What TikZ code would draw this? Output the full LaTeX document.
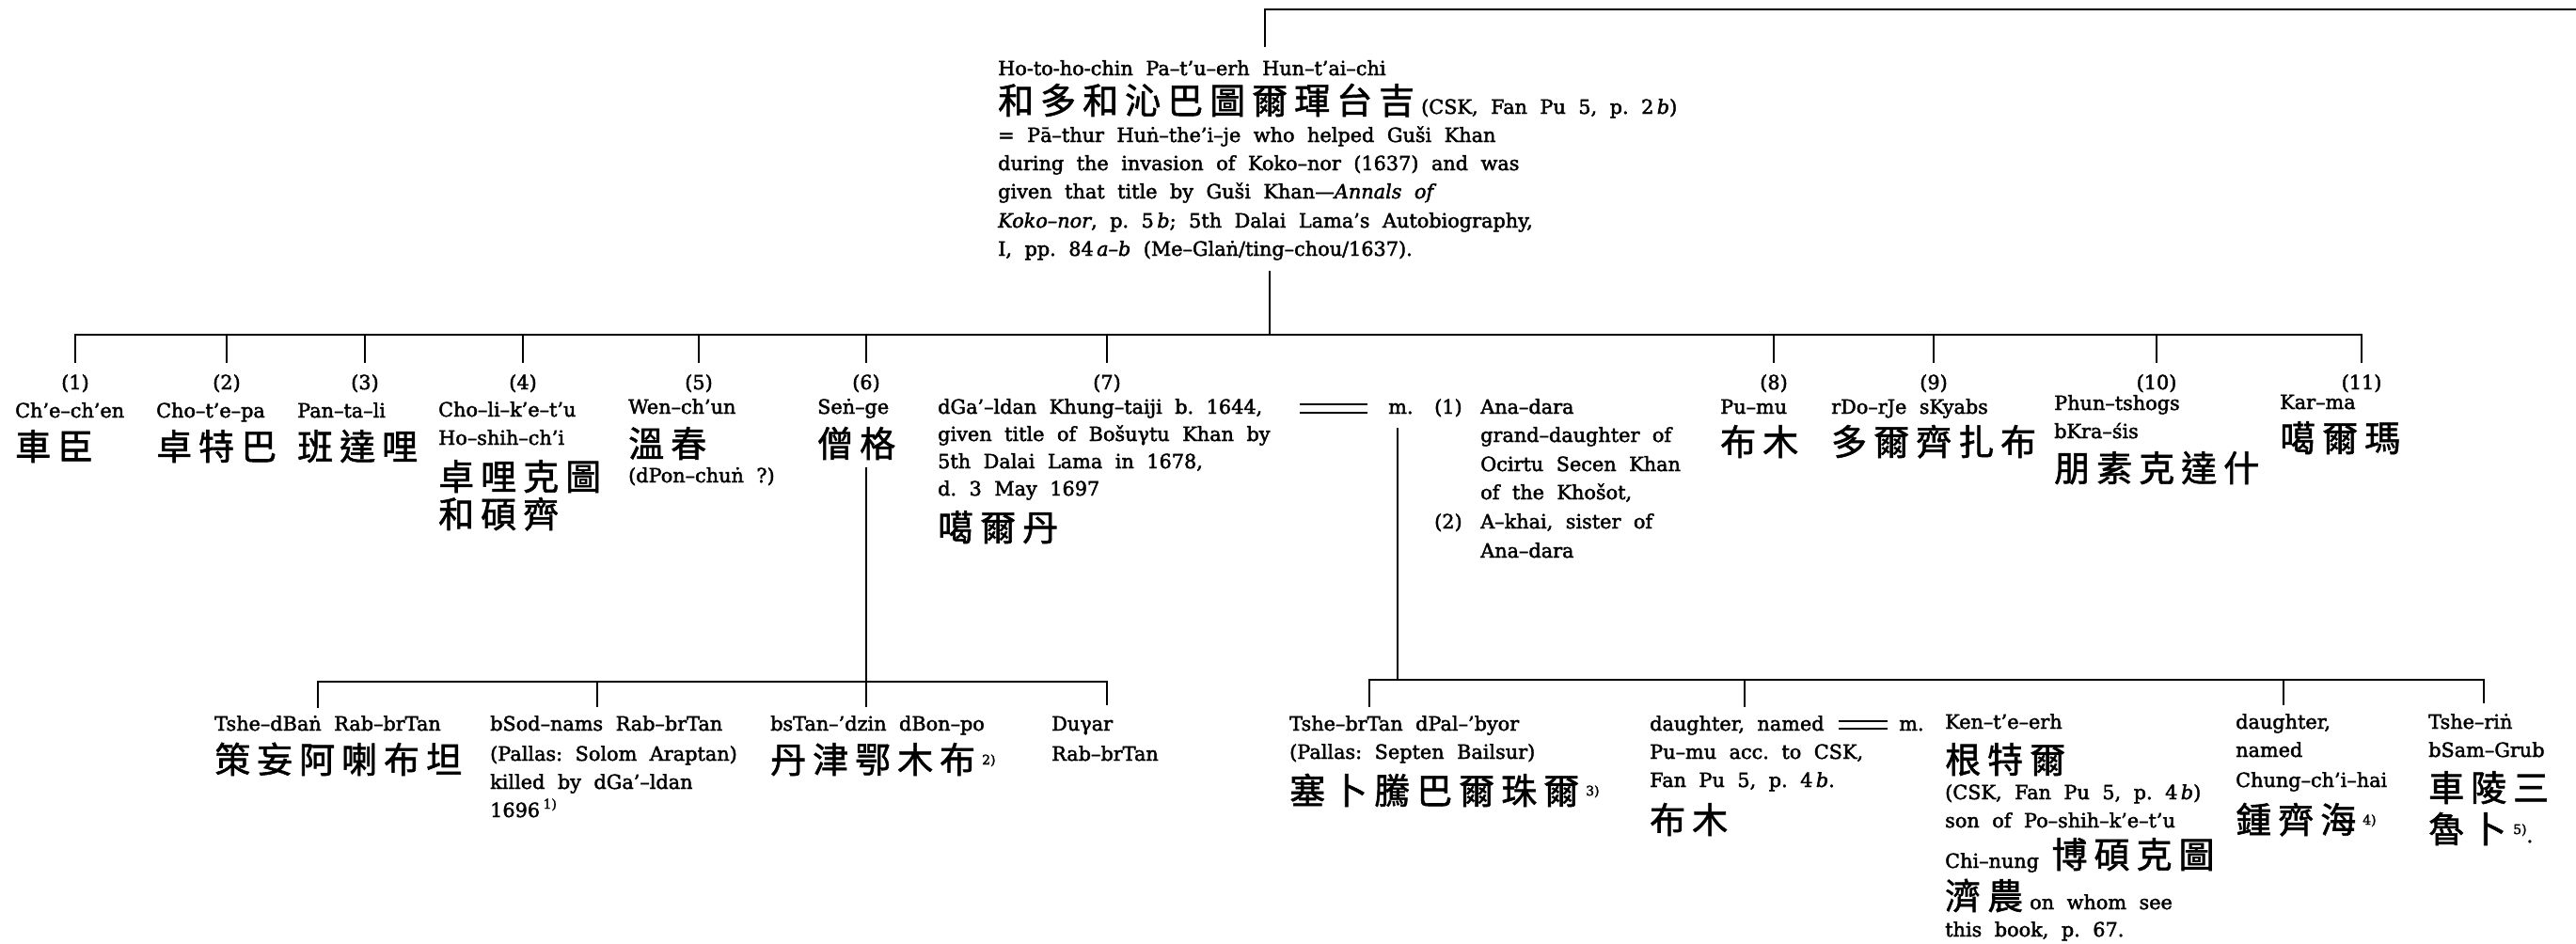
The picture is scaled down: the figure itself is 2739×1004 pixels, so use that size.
\documentclass[tikz,border=0pt]{standalone}
\usepackage{fontspec}
\setmainfont{DejaVu Serif}[FakeBold=2]
\newfontfamily\cjk{Noto Sans CJK TC}[FakeBold=1.5]
\newdimen\zhsp \zhsp=7pt
\makeatletter
\newcommand\zh[1]{{\cjk\fontsize{38}{40}\selectfont\zh@loop#1\relax}}
\def\zh@loop#1{\ifx\relax#1\else#1\kern\zhsp\expandafter\zh@loop\fi}
\makeatother
\newcommand\lat{\fontsize{20.8}{30}\selectfont\frenchspacing\spaceskip=13.5pt plus 2pt minus 2pt\relax}
\newcommand\supnote[1]{\raisebox{9pt}{\fontsize{14}{14}\selectfont #1}}
\tikzset{
  txt/.style={inner sep=0pt, anchor=base west, font=\lat},
  num/.style={inner sep=0pt, anchor=base, font=\lat},
  ln/.style={line width=2.6pt, line join=miter, draw=black},
}
\begin{document}
\begin{tikzpicture}[x=1pt,y=-1pt]
\fill[white] (0,0) rectangle (2739,1004);
\useasboundingbox (0,0) rectangle (2739,1004);

% ---------- top person ----------
\coordinate (topj) at (1345,10);
\coordinate (topr) at (2739,10);
\coordinate (topv) at (1345,50);
\draw[ln] (topv) -- (topj) -- (topr);

\node[txt] (t1) at (1061,80) {Ho-to-ho-chin Pa–t’u–erh Hun–t’ai–chi};
\node[txt] (t2) at (1061,121) {\zh{和多和沁巴圖爾琿台吉}(CSK, Fan Pu 5, p. 2\,\textit{b})};
\node[txt] (t3) at (1061,151) {= Pā–thur Huṅ–the’i–je who helped Guši Khan};
\node[txt] (t4) at (1061,181) {during the invasion of Koko–nor (1637) and was};
\node[txt] (t5) at (1061,211) {given that title by Guši Khan—\textit{Annals of}};
\node[txt] (t6) at (1061,242) {\textit{Koko–nor}, p. 5\,\textit{b}; 5th Dalai Lama’s Autobiography,};
\node[txt] (t7) at (1061,272) {I, pp. 84\,\textit{a–b} (Me–Glaṅ/ting–chou/1637).};

\coordinate (dv1) at (1350,288);
\coordinate (dv2) at (1350,356);
\draw[ln] (dv1) -- (dv2);

% ---------- first generation ----------
\foreach \i/\x in {1/80,2/241,3/388,4/556,5/743,6/921,7/1177,8/1886,9/2056,10/2293,11/2511}{
  \coordinate (m\i) at (\x,356);
  \coordinate (k\i) at (\x,386);
  \node[num] (n\i) at (\x,414) {(\i)};
}
\draw[ln] (k1) -- (m1) -- (m11) -- (k11);
\foreach \i in {2,...,10}{ \draw[ln] (m\i) -- (k\i); }

\node[txt] (c1a) at (16,444) {Ch’e–ch’en};
\node[txt] (c1z) at (16,489) {\zh{車臣}};
\node[txt] (c2a) at (166,444) {Cho–t’e–pa};
\node[txt] (c2z) at (166,489) {\zh{卓特巴}};
\node[txt] (c3a) at (316,444) {Pan–ta–li};
\node[txt] (c3z) at (316,489) {\zh{班達哩}};
\node[txt] (c4a) at (466,443) {Cho–li–k’e–t’u};
\node[txt] (c4b) at (466,473) {Ho–shih–ch’i};
\node[txt] (c4z) at (466,521) {\zh{卓哩克圖}};
\node[txt] (c4y) at (466,561) {\zh{和碩齊}};
\node[txt] (c5a) at (668,440) {Wen–ch’un};
\node[txt] (c5z) at (668,486) {\zh{溫春}};
\node[txt] (c5b) at (668,513) {(dPon–chuṅ ?)};
\node[txt] (c6a) at (869,440) {Seṅ–ge};
\node[txt] (c6z) at (869,486) {\zh{僧格}};
\node[txt] (c7a) at (997,440) {dGa’–ldan Khung–taiji b. 1644,};
\node[txt] (c7b) at (997,469) {given title of Bošuγtu Khan by};
\node[txt] (c7c) at (997,498) {5th Dalai Lama in 1678,};
\node[txt] (c7d) at (997,527) {d. 3 May 1697};
\node[txt] (c7z) at (997,575) {\zh{噶爾丹}};

\coordinate (eqa1) at (1382,430); \coordinate (eqa2) at (1454,430);
\coordinate (eqb1) at (1382,439); \coordinate (eqb2) at (1454,439);
\draw[ln] (eqa1) -- (eqa2);
\draw[ln] (eqb1) -- (eqb2);
\node[txt] (mar1) at (1476,440) {m.};
\node[txt] (w1) at (1525,440) {(1)};
\node[txt] (w1a) at (1574,440) {Ana–dara};
\node[txt] (w1b) at (1574,470) {grand–daughter of};
\node[txt] (w1c) at (1574,501) {Ocirtu Secen Khan};
\node[txt] (w1d) at (1574,531) {of the Khošot,};
\node[txt] (w2) at (1525,562) {(2)};
\node[txt] (w2a) at (1574,562) {A–khai, sister of};
\node[txt] (w2b) at (1574,593) {Ana–dara};

\node[txt] (c8a) at (1829,440) {Pu–mu};
\node[txt] (c8z) at (1829,484) {\zh{布木}};
\node[txt] (c9a) at (1947,440) {rDo–rJe sKyabs};
\node[txt] (c9z) at (1947,484) {\zh{多爾齊扎布}};
\node[txt] (c10a) at (2184,436) {Phun–tshogs};
\node[txt] (c10b) at (2184,466) {bKra–śis};
\node[txt] (c10z) at (2184,512) {\zh{朋素克達什}};
\node[txt] (c11a) at (2424,435) {Kar–ma};
\node[txt] (c11z) at (2424,480) {\zh{噶爾瑪}};

% ---------- children of Seng-ge ----------
\coordinate (sv1) at (921,497);
\coordinate (sv2) at (921,752);
\draw[ln] (sv1) -- (sv2);
\coordinate (l1) at (338,725);  \coordinate (lk1) at (338,753);
\coordinate (l2) at (635,725);  \coordinate (lk2) at (635,752);
\coordinate (l4) at (1177,725); \coordinate (lk4) at (1177,750);
\draw[ln] (lk1) -- (l1) -- (l4) -- (lk4);
\draw[ln] (l2) -- (lk2);

\node[txt] (s1a) at (228,777) {Tshe–dBaṅ Rab–brTan};
\node[txt] (s1z) at (228,822) {\zh{策妄阿喇布坦}};
\node[txt] (s2a) at (521,777) {bSod–nams Rab–brTan};
\node[txt] (s2b) at (521,809) {(Pallas: Solom Araptan)};
\node[txt] (s2c) at (521,839) {killed by dGa’–ldan};
\node[txt] (s2d) at (521,869) {1696\,\supnote{1)}};
\node[txt] (s3a) at (819,777) {bsTan–’dzin dBon–po};
\node[txt] (s3z) at (819,822) {\zh{丹津鄂木布}\supnote{2)}};
\node[txt] (s4a) at (1118,777) {Duγar};
\node[txt] (s4b) at (1118,809) {Rab–brTan};

% ---------- children of dGa'-ldan ----------
\coordinate (mv1) at (1486,455);
\coordinate (mv2) at (1486,723);
\draw[ln] (mv1) -- (mv2);
\coordinate (rl1) at (1456,723); \coordinate (rk1) at (1456,752);
\coordinate (rl2) at (1855,723); \coordinate (rk2) at (1855,752);
\coordinate (rl3) at (2428,723); \coordinate (rk3) at (2428,750);
\coordinate (rl4) at (2641,723); \coordinate (rk4) at (2641,748);
\draw[ln] (rk1) -- (rl1) -- (rl4) -- (rk4);
\draw[ln] (rl2) -- (rk2);
\draw[ln] (rl3) -- (rk3);

\node[txt] (r1a) at (1371,777) {Tshe–brTan dPal–’byor};
\node[txt] (r1b) at (1371,807) {(Pallas: Septen Bailsur)};
\node[txt] (r1z) at (1371,855) {\zh{塞卜騰巴爾珠爾}\supnote{3)}};

\node[txt] (r2a) at (1754,777) {daughter, named};
\coordinate (eqc1) at (1955,767); \coordinate (eqc2) at (2007,767);
\coordinate (eqd1) at (1955,775); \coordinate (eqd2) at (2007,775);
\draw[ln] (eqc1) -- (eqc2);
\draw[ln] (eqd1) -- (eqd2);
\node[txt] (mar2) at (2019,777) {m.};
\node[txt] (r2b) at (1754,807) {Pu–mu acc. to CSK,};
\node[txt] (r2c) at (1754,837) {Fan Pu 5, p. 4\,\textit{b}.};
\node[txt] (r2z) at (1754,886) {\zh{布木}};

\node[txt] (r3a) at (2068,775) {Ken–t’e–erh};
\node[txt] (r3z) at (2068,822) {\zh{根特爾}};
\node[txt] (r3b) at (2068,850) {(CSK, Fan Pu 5, p. 4\,\textit{b})};
\node[txt] (r3c) at (2068,880) {son of Po–shih–k’e–t’u};
\node[txt] (r3d) at (2068,923) {Chi–nung \zh{博碩克圖}};
\node[txt] (r3e) at (2068,967) {\zh{濟農}on whom see};
\node[txt] (r3f) at (2068,996) {this book, p. 67.};

\node[txt] (r4a) at (2377,775) {daughter,};
\node[txt] (r4b) at (2377,805) {named};
\node[txt] (r4c) at (2377,837) {Chung–ch’i–hai};
\node[txt] (r4z) at (2377,886) {\zh{鍾齊海}\supnote{4)}};

\node[txt] (r5a) at (2582,775) {Tshe–riṅ};
\node[txt] (r5b) at (2582,805) {bSam–Grub};
\node[txt] (r5z) at (2582,852) {\zh{車陵三}};
\node[txt] (r5y) at (2582,896) {\zh{魯卜}\supnote{5)}.};
\end{tikzpicture}
\end{document}
